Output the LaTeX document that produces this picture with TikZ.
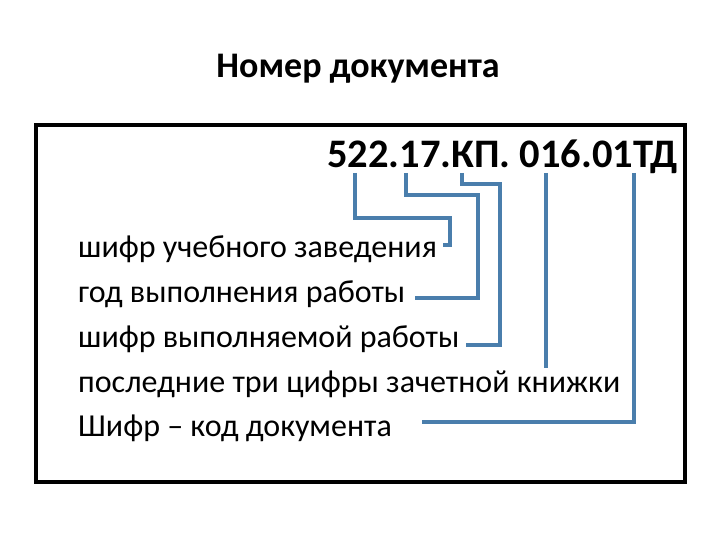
\documentclass[tikz,border=0pt]{standalone}
\usepackage{fontspec}
\setmainfont{Carlito}
\usepackage{xcolor}
\usepackage{tikz}
\definecolor{linkblue}{RGB}{74,126,172}

\begin{document}
\begin{tikzpicture}[x=1pt,y=-1pt,
        item/.style={anchor=base west, inner sep=0pt, font=\fontsize{32}{36}\selectfont},
        link/.style={draw=linkblue, line width=4pt}]
        \useasboundingbox (0,0) rectangle (720,540);
        % title and frame
        \node[anchor=base, inner sep=0pt, font=\fontsize{36}{40}\selectfont\bfseries] (title) at (358,78) {Номер документа};
        \draw[line width=4pt] (36,125) rectangle (685,482);
        \node[anchor=base west, inner sep=0pt, font=\fontsize{40.5}{45}\selectfont\bfseries] (code) at (327,168) {522.17.КП. 016.01ТД};
        % parts of the code
        \node[item] (school) at (78,257) {шифр учебного заведения};
        \node[item] (year) at (78,302) {год выполнения работы};
        \node[item] (work) at (78,347) {шифр выполняемой работы};
        \node[item] (book) at (78,392) {последние три цифры зачетной книжки};
        \node[item] (doc) at (78,436) {Шифр – код документа};
        % where the lines start and end
        \coordinate (c1) at (355,173);
        \coordinate (c2) at (406,173);
        \coordinate (c3) at (462,173);
        \coordinate (c4) at (546,173);
        \coordinate (c5) at (634,173);
        \coordinate (e1) at (443,245);
        \coordinate (e2) at (415,298);
        \coordinate (e3) at (466,345);
        \coordinate (e4) at (546,368);
        \coordinate (e5) at (422,422);
        \draw[link] (c1) |- (450,218) |- (e1);
        \draw[link] (c2) |- (478,195) |- (e2);
        \draw[link] (c3) |- (500,184) |- (e3);
        \draw[link] (c4) -- (e4);
        \draw[link] (c5) |- (e5);
\end{tikzpicture}
\end{document}
